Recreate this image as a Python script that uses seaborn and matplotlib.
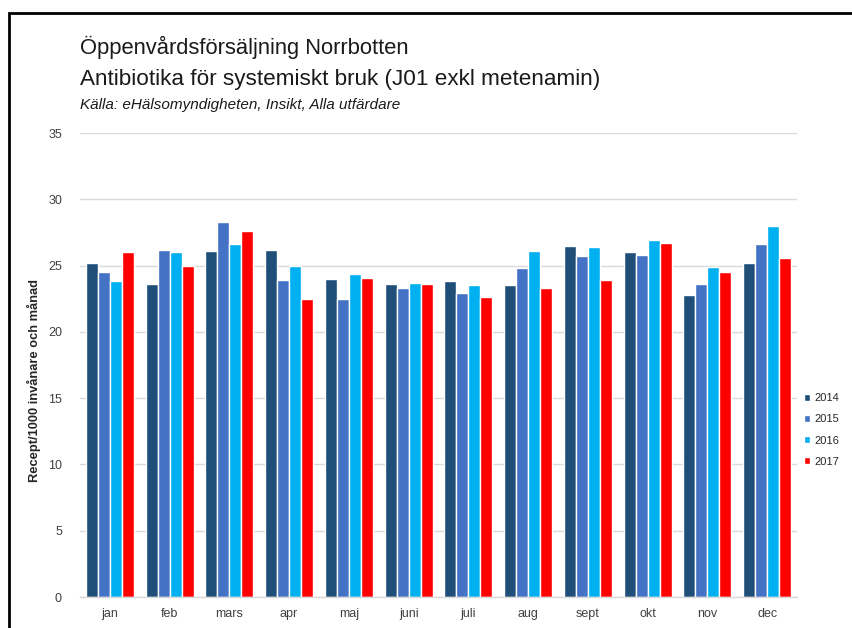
import matplotlib
matplotlib.use("Agg")
import matplotlib.pyplot as plt
import seaborn as sns
import pandas as pd
from matplotlib.patches import Rectangle

# Data
manader = ["jan", "feb", "mars", "apr", "maj", "juni", "juli", "aug", "sept", "okt", "nov", "dec"]
ar = ["2014", "2015", "2016", "2017"]
v2014 = [25.2, 23.6, 26.1, 26.2, 24.0, 23.6, 23.8, 23.5, 26.5, 26.0, 22.8, 25.2]
v2015 = [24.5, 26.2, 28.3, 23.9, 22.5, 23.3, 22.9, 24.8, 25.7, 25.8, 23.6, 26.6]
v2016 = [23.8, 26.0, 26.6, 25.0, 24.4, 23.7, 23.5, 26.1, 26.4, 26.9, 24.9, 28.0]
v2017 = [26.0, 25.0, 27.6, 22.5, 24.1, 23.6, 22.6, 23.3, 23.9, 26.7, 24.5, 25.6]
farger = ["#1F4E79", "#4472C4", "#00B0F0", "#FF0000"]

df = pd.DataFrame({
    "manad": manader * 4,
    "ar": [a for a in ar for _ in manader],
    "varde": v2014 + v2015 + v2016 + v2017,
})

sns.set_style("white")
plt.rcParams["font.family"] = ["Liberation Sans", "DejaVu Sans"]

fig = plt.figure(figsize=(8.52, 6.28), dpi=100)
ax = fig.add_axes([80 / 852, 31 / 628, 717 / 852, 464 / 628])

sns.barplot(data=df, x="manad", y="varde", hue="ar", palette=farger,
            order=manader, hue_order=ar, width=0.8, saturation=1,
            errorbar=None, ax=ax)

ax.set_ylim(0, 35)
ax.set_yticks(range(0, 36, 5))
ax.set_xlim(-0.5, 11.5)
ax.grid(axis="y", color="#D9D9D9", linewidth=1)
ax.set_axisbelow(True)
for s in ["top", "right", "left"]:
    ax.spines[s].set_visible(False)
ax.spines["bottom"].set_color("#D9D9D9")
ax.spines["bottom"].set_linewidth(1)
ax.tick_params(axis="y", length=5, color="#D9D9D9", labelsize=9, labelcolor="#404040", pad=8)
ax.tick_params(axis="x", length=0, labelsize=9, labelcolor="#404040", pad=8)
ax.set_xlabel("")
ax.set_ylabel("Recept/1000 invånare och månad", fontsize=9.3, fontweight="bold")
ax.yaxis.set_label_coords(-0.055, 0.466)

leg = ax.legend(loc="center left", bbox_to_anchor=(1.0, 0.36), frameon=False,
                fontsize=8, handlelength=0.6, handleheight=0.6, handletextpad=0.4,
                labelspacing=1.0, borderaxespad=0.2)

fig.text(80 / 852, 1 - 47 / 628, "Öppenvårdsförsäljning Norrbotten", fontsize=15.8, va="center", color="#1a1a1a")
fig.text(80 / 852, 1 - 79 / 628, "Antibiotika för systemiskt bruk (J01 exkl metenamin)", fontsize=16.2, va="center", color="#1a1a1a")
fig.text(80 / 852, 1 - 105 / 628, "Källa: eHälsomyndigheten, Insikt, Alla utfärdare", fontsize=11, style="italic", va="center", color="#1a1a1a")

# svart ram runt bilden
fig.patches.append(Rectangle((9 / 852, -0.1), 1.1, 1 - 13 / 628 + 0.1, transform=fig.transFigure,
                             fill=False, edgecolor="black", linewidth=2, zorder=10))

fig.savefig("out.png", dpi=100)
